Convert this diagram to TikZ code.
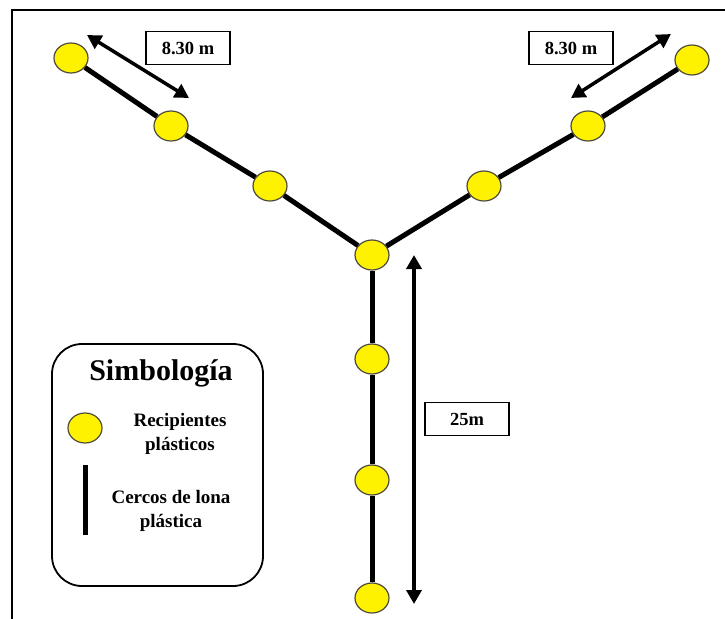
\documentclass[tikz,border=0pt]{standalone}
\usepackage{fontspec}
\setmainfont{Liberation Serif}
\usetikzlibrary{shapes.geometric}
\usetikzlibrary{arrows.meta}

\begin{document}
\begin{tikzpicture}[x=1pt,y=-1pt,
  bote/.style={ellipse,draw=black!80!yellow,line width=1.2pt,fill=yellow,minimum width=34pt,minimum height=30pt,inner sep=0pt},
  cerco/.style={line width=5pt},
  cota/.style={line width=3.5pt,{Triangle[length=14pt,width=15pt]}-{Triangle[length=14pt,width=15pt]}},
  rotulo/.style={draw,line width=1.8pt,minimum width=84pt,minimum height=33pt,font=\fontsize{18.5}{20}\selectfont\bfseries},
  texto/.style={align=center,font=\fontsize{19}{24}\selectfont\bfseries}]
\useasboundingbox (0,0) rectangle (725,618);
\draw[line width=2.5pt] (12,640) |- (740,10);
% recipientes
\foreach \n/\x/\y in {c/372/255, a1/71/58, a2/171/126, a3/270/186, b1/692/60, b2/588/126, b3/484/186, d1/372/359, d2/372/480, d3/372/598}
  \node[bote] (\n) at (\x,\y) {};
\draw[cerco] (a1) -- (a2) -- (a3) -- (c) -- (b3) -- (b2) -- (b1);
\draw[cerco] (c) -- (d1) -- (d2) -- (d3);
% cotas
\foreach \n/\x/\y in {p1/87/35, p2/189/98, q1/571/98, q2/671/34, r1/414/255, r2/414/604}
  \coordinate (\n) at (\x,\y);
\draw[cota] (p1) -- (p2);
\draw[cota] (q1) -- (q2);
\draw[cota] (r1) -- (r2);
\node[rotulo] (la) at (188,48) {8.30 m};
\node[rotulo] (lb) at (571,48) {8.30 m};
\node[rotulo] (lc) at (467,419) {25m};
% simbologia
\node[draw,line width=1.8pt,rounded corners=30pt,minimum width=211pt,minimum height=242pt] (ley) at (157.5,465) {};
\node[font=\fontsize{30}{34}\selectfont\bfseries] (tit) at (161,373) {Simbología};
\node[bote] (s1) at (85,428) {};
\node[texto] (t1) at (180,434) {Recipientes\\plásticos};
\draw[line width=5pt] (85,465) -- (85,535);
\node[texto] (t2) at (171,511) {Cercos de lona\\plástica};
\end{tikzpicture}
\end{document}
